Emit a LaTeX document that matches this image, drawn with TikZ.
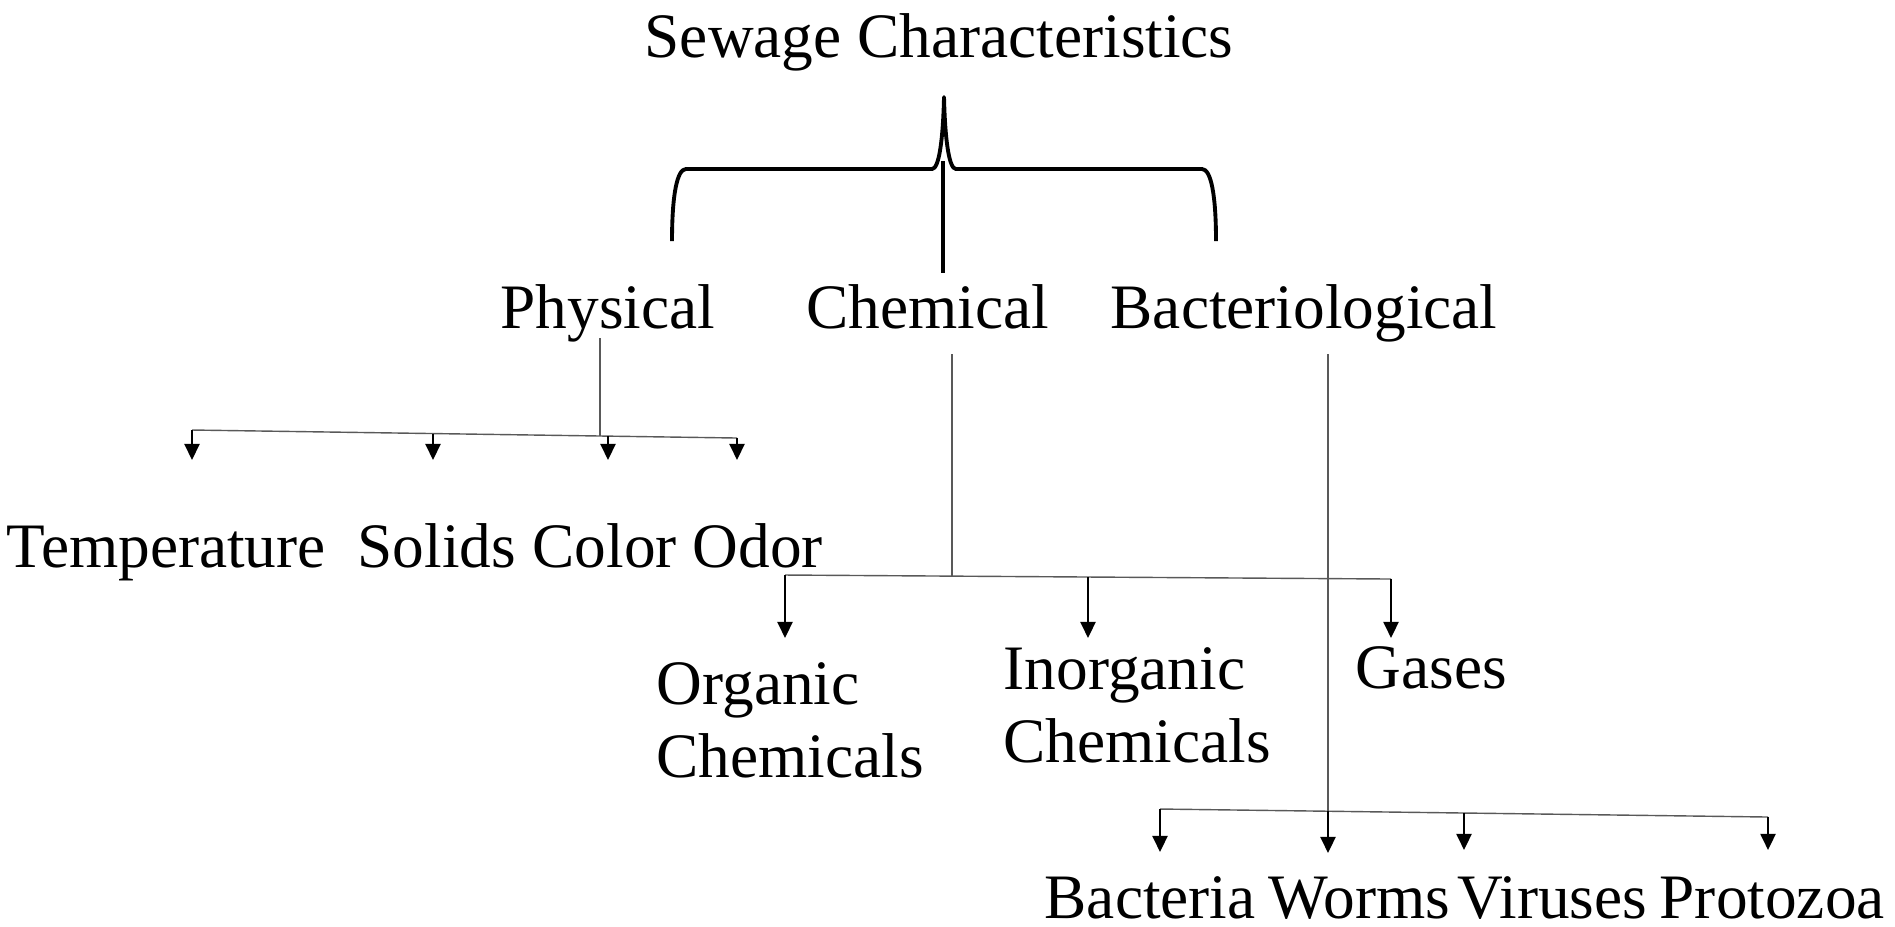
\documentclass[tikz,border=0pt]{standalone}
\usepackage{fontspec}
\setmainfont{Liberation Serif}
\usetikzlibrary{arrows.meta}

\begin{document}
\begin{tikzpicture}[
  x=0.01cm, y=-0.01cm, >={Triangle[width=4.3pt,length=4.6pt]},
  lbl/.style={inner sep=0pt, anchor=base west, align=left,
              font=\fontsize{18}{20.6}\selectfont},
  bus/.style={draw=black!65, line width=0.4pt},
  drop/.style={->, line width=0.6pt},
  brace/.style={line width=1.1pt, line join=round}
]
\useasboundingbox (0,0) rectangle (1895,926);

% headings
\node[lbl] (title) at (644,57) {Sewage Characteristics};
\node[lbl] (phys)  at (500,328) {Physical};
\node[lbl] (chem)  at (806,328) {Chemical};
\node[lbl] (bact)  at (1110,328) {Bacteriological};

% leaves (base of a two-line node is its last line)
\node[lbl] (temp)   at (6,567)   {Temperature};
\node[lbl] (solids) at (357,567) {Solids};
\node[lbl] (color)  at (532,567) {Color};
\node[lbl] (odor)   at (692,567) {Odor};
\node[lbl] (org)    at (656,777) {Organic\\Chemicals};
\node[lbl] (inorg)  at (1003,762) {Inorganic\\Chemicals};
\node[lbl] (gases)  at (1355,688) {Gases};
\node[lbl] (bacter) at (1044,918) {Bacteria};
\node[lbl] (worms)  at (1268,918) {Worms};
\node[lbl] (virus)  at (1457,918) {Viruses};
\node[lbl] (proto)  at (1659,918) {Protozoa};

% brace under the title
\draw[brace] (672,241) .. controls (672,195) and (677,169) .. (686,169)
  -- (932,169) .. controls (939,169) and (943,140) .. (944,97)
  .. controls (945,140) and (949,169) .. (956,169)
  -- (1202,169) .. controls (1211,169) and (1216,195) .. (1216,241);
\draw[brace] (943,161) -- (943,273);

% physical
\coordinate (pt)  at (600,338);
\coordinate (pj)  at (600,436);
\coordinate (pl)  at (192,430);
\coordinate (pr)  at (737,438);
\coordinate (pt1) at (192,460);
\coordinate (pt2) at (433,460);
\coordinate (pt3) at (608,460);
\coordinate (pt4) at (737,460);
\draw[bus] (pt) -- (pj);
\draw[bus] (pl) -- (pr);
\draw[drop] (pl) -- (pt1);
\draw[drop] (433,433.5) -- (pt2);
\draw[drop] (608,436) -- (pt3);
\draw[drop] (pr) -- (pt4);

% chemical
\coordinate (ct)  at (952,354);
\coordinate (cj)  at (952,577);
\coordinate (cl)  at (785,575);
\coordinate (cr)  at (1391,579);
\coordinate (ct1) at (785,638);
\coordinate (ct2) at (1088,638);
\coordinate (ct3) at (1391,638);
\draw[bus] (ct) -- (cj);
\draw[bus] (cl) -- (cr);
\draw[drop] (cl) -- (ct1);
\draw[drop] (1088,577) -- (ct2);
\draw[drop] (cr) -- (ct3);

% bacteriological
\coordinate (bt)  at (1328,354);
\coordinate (bj)  at (1328,811);
\coordinate (bl)  at (1160,809);
\coordinate (br)  at (1768,817);
\coordinate (bt1) at (1160,852);
\coordinate (bt2) at (1328,853);
\coordinate (bt3) at (1464,850);
\coordinate (bt4) at (1768,850);
\draw[bus] (bt) -- (bj);
\draw[bus] (bl) -- (br);
\draw[drop] (bl) -- (bt1);
\draw[drop] (bj) -- (bt2);
\draw[drop] (1464,813) -- (bt3);
\draw[drop] (br) -- (bt4);
\end{tikzpicture}
\end{document}
